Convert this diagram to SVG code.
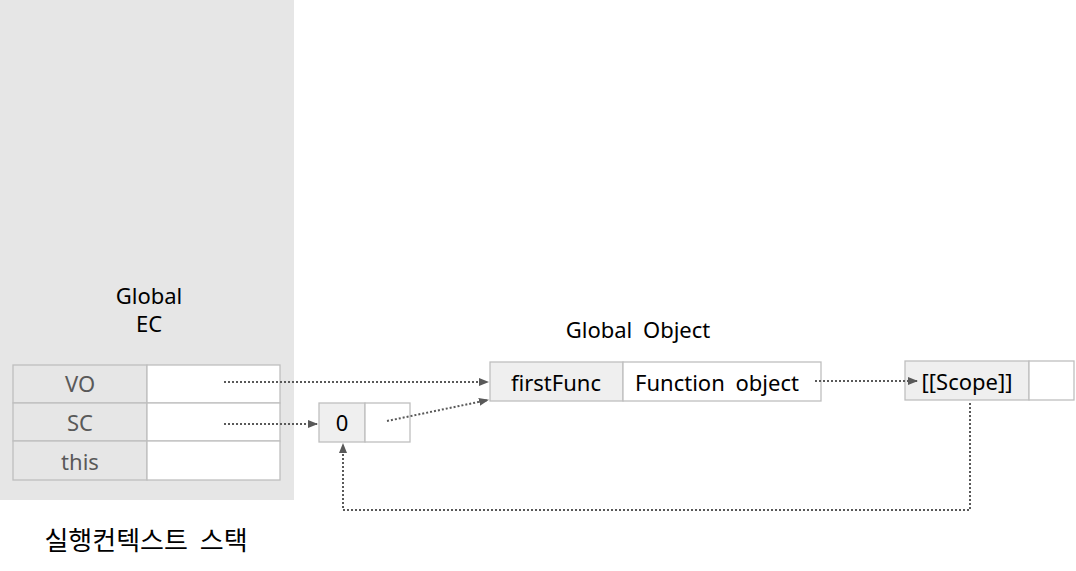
<svg xmlns="http://www.w3.org/2000/svg" width="1076" height="571" viewBox="0 0 1076 571">
<defs>
<style>
text{font-family:"Noto Sans","Noto Sans CJK KR",sans-serif;font-size:22px;fill:#000;text-anchor:middle;word-spacing:5px}
.lbl{fill:#595959}
.cell{stroke:#bfbfbf;stroke-width:1.3}
.g{fill:#e6e6e6}
.lg{fill:#efefef}
.w{fill:#fff}
.conn{fill:none;stroke:#595959;stroke-width:2;stroke-dasharray:2 2}
</style>
<marker id="a" viewBox="0 0 10 10" refX="9" refY="5" markerWidth="10" markerHeight="10" orient="auto" markerUnits="userSpaceOnUse">
<path d="M0,1 L10,5 L0,9 z" fill="#595959"/>
</marker>
</defs>
<rect x="0" y="0" width="294" height="500" fill="#e6e6e6"/>
<g id="global-ec">
<text x="149" y="304">Global</text>
<text x="149" y="332">EC</text>
<rect class="cell g" x="13" y="365" width="134" height="38"/>
<rect class="cell w" x="147" y="365" width="133" height="38"/>
<rect class="cell g" x="13" y="403" width="134" height="38"/>
<rect class="cell w" x="147" y="403" width="133" height="38"/>
<rect class="cell g" x="13" y="441" width="134" height="39"/>
<rect class="cell w" x="147" y="441" width="133" height="39"/>
<text class="lbl" x="80" y="392">VO</text>
<text class="lbl" x="80" y="431">SC</text>
<text class="lbl" x="80" y="470">this</text>
</g>
<g id="scope-chain">
<rect class="cell lg" x="319" y="403" width="46" height="39"/>
<rect class="cell w" x="365" y="403" width="45" height="39"/>
<text x="342" y="431">0</text>
</g>
<g id="global-object">
<text x="638" y="338">Global Object</text>
<rect class="cell lg" x="490" y="362" width="133" height="39"/>
<rect class="cell w" x="623" y="362" width="198" height="39"/>
<text x="556" y="391">firstFunc</text>
<text x="717" y="391">Function object</text>
</g>
<g id="function-object">
<rect class="cell lg" x="905" y="361" width="124" height="39"/>
<rect class="cell w" x="1029" y="361" width="45" height="39"/>
<text x="967" y="390">[[Scope]]</text>
</g>
<g id="connectors">
<path class="conn" d="M224,382 L488,382" marker-end="url(#a)"/>
<path class="conn" d="M224,424 L317,424" marker-end="url(#a)"/>
<path class="conn" d="M387,421 L488,400" marker-end="url(#a)"/>
<path class="conn" d="M815,381 L917,381" marker-end="url(#a)"/>
<path class="conn" d="M970,403 L970,510 L343,510 L343,444" marker-end="url(#a)"/>
</g>
<text x="146" y="550" style="font-size:26px">실행컨텍스트 스택</text>
</svg>
